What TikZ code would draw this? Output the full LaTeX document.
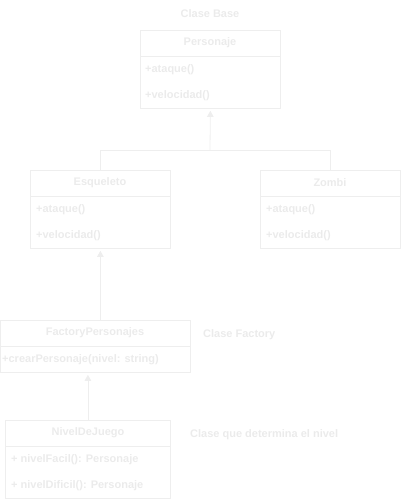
\documentclass[tikz,border=0pt]{standalone}
\usepackage{fontspec}
\setmainfont{Liberation Sans}
\usetikzlibrary{arrows.meta}
\definecolor{ln}{HTML}{EEEEEE}
\definecolor{tx}{HTML}{EBEBEB}
\begin{document}
\begin{tikzpicture}[x=1pt,y=-1pt,
  cls/.style={draw=ln,line width=0.8pt,rectangle,anchor=north west,inner sep=0pt},
  ttl/.style={text=tx,font=\bfseries\fontsize{11}{13}\selectfont,inner sep=0pt},
  att/.style={text=tx,font=\bfseries\fontsize{11}{13}\selectfont,inner sep=0pt,anchor=west},
  note/.style={text=tx,font=\bfseries\fontsize{11}{13}\selectfont,inner sep=0pt},
  conn/.style={draw=ln,line width=0.8pt},
  inh/.style={conn,-{Triangle[width=6.5pt,length=6pt]},shorten >=2pt}]
\useasboundingbox (0,0) rectangle (401,501);
% Personaje
\node[note] (nbase) at (210,14) {Clase Base};
\node[cls,minimum width=140pt,minimum height=78pt] (per) at (140,30) {};
\draw[conn] ([yshift=-26pt]per.north west) -- ([yshift=-26pt]per.north east);
\node[ttl] (pert) at (210,43) {Personaje};
\node[att] (pera) at (145,70) {+ataque()};
\node[att] (perv) at (145,96) {+velocidad()};
% Esqueleto
\node[cls,minimum width=140pt,minimum height=78pt] (esq) at (30,170) {};
\draw[conn] ([yshift=-26pt]esq.north west) -- ([yshift=-26pt]esq.north east);
\node[ttl] (esqt) at (100,183) {Esqueleto};
\node[att] (esqa) at (36,210) {+ataque()};
\node[att] (esqv) at (36,236) {+velocidad()};
% Zombi
\node[cls,minimum width=140pt,minimum height=78pt] (zom) at (260,170) {};
\draw[conn] ([yshift=-26pt]zom.north west) -- ([yshift=-26pt]zom.north east);
\node[ttl] (zomt) at (330,183) {Zombi};
\node[att] (zoma) at (266,210) {+ataque()};
\node[att] (zomv) at (266,236) {+velocidad()};
% Factory
\node[cls,minimum width=190pt,minimum height=52pt] (fac) at (0,320) {};
\draw[conn] ([yshift=-26pt]fac.north west) -- ([yshift=-26pt]fac.north east);
\node[ttl] (fact) at (95,333) {FactoryPersonajes};
\node[att] (facm) at (2,360) {+crearPersonaje(nivel: string)};
\node[note,anchor=west] (nfac) at (203,335) {Clase Factory};
% NivelDeJuego
\node[cls,minimum width=165pt,minimum height=78pt] (niv) at (5,420) {};
\draw[conn] ([yshift=-26pt]niv.north west) -- ([yshift=-26pt]niv.north east);
\node[ttl] (nivt) at (88,433) {NivelDeJuego};
\node[att] (niva) at (11,460) {+ nivelFacil(): Personaje};
\node[att] (nivd) at (11,486) {+ nivelDificil(): Personaje};
\node[note,anchor=west] (nniv) at (190,435) {Clase que determina el nivel};
% connectors
\coordinate (j) at (210,150);
\draw[conn] (esq.north) -- ++(0,-20) -| (zom.north);
\draw[inh] (j) -- (per.south);
\draw[inh] (fac.north -| esq.south) -- (esq.south);
\draw[inh] (niv.north) -- (niv.north |- fac.south);
\end{tikzpicture}
\end{document}
